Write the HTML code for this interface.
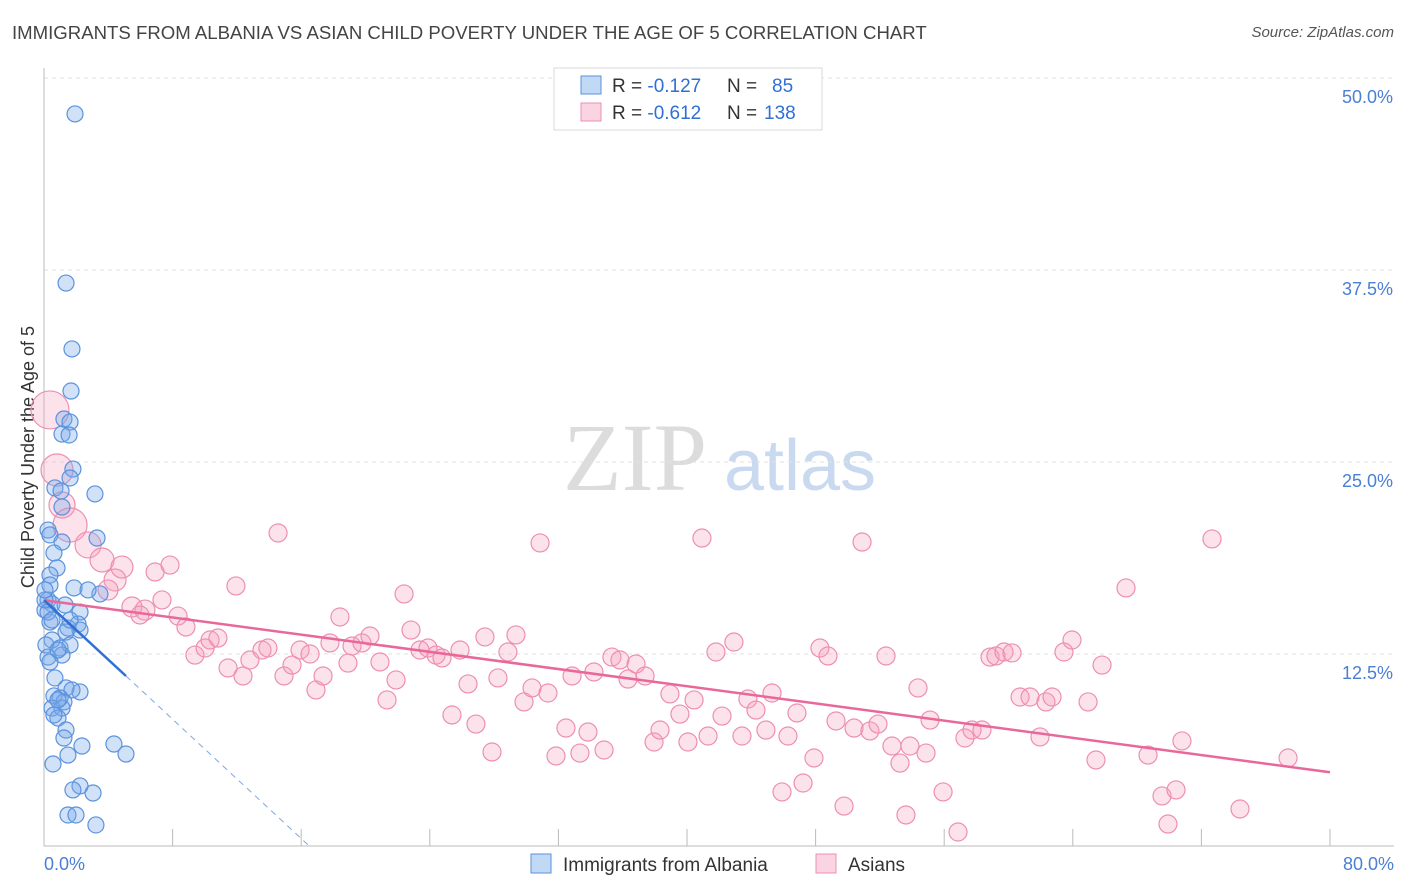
<!DOCTYPE html>
<html><head><meta charset="utf-8">
<style>
body{margin:0;background:#fff;font-family:"Liberation Sans",sans-serif;}
#wrap{position:relative;width:1406px;height:892px;overflow:hidden;}
.t{position:absolute;white-space:nowrap;}
</style></head>
<body>
<div id="wrap">
<div class="t" style="left:12px;top:22px;font-size:18.6px;color:#444;">IMMIGRANTS FROM ALBANIA VS ASIAN CHILD POVERTY UNDER THE AGE OF 5 CORRELATION CHART</div>
<div class="t" style="right:12px;top:24px;font-size:15px;color:#555;font-style:italic;">Source: ZipAtlas.com</div>
<svg id="svg" width="1406" height="892" style="position:absolute;left:0;top:0"></svg>
</div>
<script>
const blueX=[1.93,1.37,1.74,1.68,1.24,1.62,1.12,1.56,1.80,1.62,0.68,1.06,3.17,1.12,0.25,0.37,1.12,3.30,0.62,0.81,0.37,1.87,3.48,2.74,0.25,0.50,0.06,2.24,0.37,2.12,1.49,0.50,2.24,1.37,0.12,1.00,1.62,0.25,1.12,0.37,0.68,2.24,1.37,1.74,0.62,1.00,1.24,0.50,1.12,0.87,1.37,1.24,2.36,1.49,4.35,5.10,0.56,2.24,1.80,3.05,1.49,1.99,3.23,0.25,0.50,0.87,0.06,1.31,0.87,0.62,1.62,0.37,0.06];
const blueY=[47.66,36.65,32.36,29.62,27.80,27.60,26.82,26.76,24.54,23.96,23.31,23.11,22.92,22.07,20.57,20.25,19.79,20.05,19.08,18.10,17.64,16.80,16.41,16.67,16.02,15.76,15.36,15.23,14.58,14.45,14.19,13.41,14.06,13.93,13.09,12.89,13.09,12.30,12.43,11.98,10.94,10.03,10.29,10.16,9.77,9.64,9.38,8.98,8.98,8.33,7.55,7.03,6.51,5.92,6.64,5.99,5.34,3.91,3.65,3.45,2.02,2.02,1.37,15.23,14.71,12.76,16.02,15.69,9.51,8.53,14.71,16.99,16.67];
const pinkX=[0.37,0.81,1.12,1.62,2.74,3.61,4.42,4.85,3.98,5.47,6.28,5.97,6.91,7.84,7.34,8.34,8.83,9.39,10.02,10.33,10.82,11.45,11.94,12.38,12.81,13.56,13.93,14.56,14.93,15.43,15.93,16.55,16.92,17.36,17.79,18.41,18.91,19.16,19.78,20.28,20.90,21.34,21.90,22.40,22.83,23.39,23.89,24.39,24.76,25.38,25.88,26.38,26.87,27.43,27.87,28.24,28.86,29.36,29.86,30.36,30.86,31.35,31.85,32.47,32.85,33.34,33.84,34.21,34.84,35.33,35.83,36.33,36.83,37.39,37.95,38.32,38.94,39.56,40.06,40.44,40.93,41.31,41.80,42.18,42.92,43.42,43.79,44.29,44.91,45.29,45.91,46.28,46.84,47.22,47.90,48.27,48.77,49.27,49.77,50.39,50.89,51.38,51.88,52.38,52.75,53.25,53.62,53.87,54.37,54.87,55.12,55.93,56.86,57.29,57.73,58.35,58.85,59.22,59.72,60.22,60.72,61.34,61.96,62.33,62.71,63.45,63.95,64.95,65.44,65.82,67.31,68.68,69.55,69.92,70.42,70.79,72.66,74.40,77.39];
const pinkY=[28.39,24.48,22.20,20.90,19.60,18.62,17.32,18.16,16.67,15.56,15.36,15.04,17.84,18.29,16.02,14.97,14.26,12.43,12.89,13.41,13.54,11.59,16.93,11.07,12.11,12.76,12.89,20.38,11.07,11.78,12.76,12.50,10.16,11.07,13.22,14.91,11.91,13.02,13.22,13.67,11.98,9.51,10.81,16.41,14.06,12.76,12.89,12.43,12.24,8.53,12.76,10.55,7.94,13.61,6.12,10.94,12.63,13.74,9.38,10.29,19.73,9.96,5.86,7.68,11.07,6.05,7.42,11.33,6.25,12.30,12.11,10.87,11.85,11.07,6.77,7.55,9.90,8.59,6.77,9.51,20.05,7.16,12.63,8.46,13.28,7.16,9.57,8.85,7.55,9.96,3.52,7.16,8.66,4.10,5.73,12.89,12.37,8.14,2.60,7.68,19.79,7.49,7.94,12.37,6.51,5.40,2.02,6.51,10.29,6.05,8.20,3.52,0.91,7.03,7.55,7.55,12.30,12.37,12.63,12.57,9.70,9.70,7.10,9.38,9.70,12.63,13.41,9.38,5.60,11.78,16.80,5.92,3.26,1.43,3.65,6.84,19.99,2.41,5.73];
const pinkR=[19,16,13,17,13,12,11,11,10,10,10,9];
const yTicks=[12.5,25.0,37.5,50.0];
const xTickLabels=["0.0%","80.0%"];
const blueTrend=[16.0,-0.967,5.1,16.5];
const pinkTrend=[16.0,4.8];

const X0=44,X1=1330,Y0=846,Y1=78;
const sx=v=>X0+v/80*(X1-X0);
const sy=v=>Y0-v/50*(Y0-Y1);
const svg=document.getElementById('svg');
const NS='http://www.w3.org/2000/svg';
function mk(tag,attrs,parent){const e=document.createElementNS(NS,tag);for(const k in attrs)e.setAttribute(k,attrs[k]);(parent||svg).appendChild(e);return e;}

let w=mk('text',{x:635,y:490,'font-size':96,'font-family':'Liberation Serif, serif',fill:'#dcdcdc','text-anchor':'middle'});w.textContent='ZIP';


let w2=mk('text',{x:800,y:490,'font-size':72,'font-family':'Liberation Sans, sans-serif',fill:'#c9daf0','text-anchor':'middle'});w2.textContent='atlas';



yTicks.forEach(v=>{
  const l=mk('line',{x1:X0,x2:1394,y1:sy(v),y2:sy(v),stroke:'#e2e2e2','stroke-dasharray':'4,4'});
  
  
  const t=mk('text',{x:1393,y:sy(v)+25,'font-size':18,fill:'#4a7fd4','text-anchor':'end'});
  t.textContent=v.toFixed(1)+'%';
  
  
});
let ax=mk('line',{x1:X0,x2:X0,y1:68,y2:Y0,stroke:'#bbb'});


let bx=mk('line',{x1:X0,x2:1394,y1:Y0,y2:Y0,stroke:'#bbb'});


for(let i=0;i<=10;i++){
  const tk=mk('line',{x1:sx(i*8),x2:sx(i*8),y1:Y0,y2:Y0-17,stroke:'#bbb'});
  
  
}
[[0,'start',X0],[1,'end',1394]].forEach(([i,a,x])=>{
  const t=mk('text',{x:x,y:870,'font-size':18,fill:'#4a7fd4','text-anchor':a});
  t.textContent=xTickLabels[i];
  
  
});
let yt=mk('text',{x:34,y:457,'font-size':18,fill:'#333','text-anchor':'middle',transform:'rotate(-90 34 457)'});
yt.textContent='Child Poverty Under the Age of 5';



pinkX.forEach((x,i)=>{
  const c=mk('circle',{cx:sx(x),cy:sy(pinkY[i]),r:pinkR[i]||9,fill:'rgba(244,160,190,0.3)',stroke:'#ee8fb0','stroke-width':1.2});
  
  
});
blueX.forEach((x,i)=>{
  const c=mk('circle',{cx:sx(x),cy:sy(blueY[i]),r:8,fill:'rgba(120,170,235,0.35)',stroke:'#5b92dc','stroke-width':1.2});
  
  
});
let pt=mk('line',{x1:sx(0),y1:sy(pinkTrend[0]),x2:sx(80),y2:sy(pinkTrend[1]),stroke:'#e8689a','stroke-width':2.5});


const [b0,bs,bEnd,bZero]=blueTrend;
let bt=mk('line',{x1:sx(0),y1:sy(b0),x2:sx(bEnd),y2:sy(b0+bs*bEnd),stroke:'#2f6fd6','stroke-width':2.5});


let bd=mk('line',{x1:sx(bEnd),y1:sy(b0+bs*bEnd),x2:sx(bZero),y2:sy(0),stroke:'#7fa6e0','stroke-width':1,'stroke-dasharray':'6,5'});



let lg=mk('rect',{x:554,y:68,width:268,height:62,fill:'#fff',stroke:'#d8d8d8'});


[[0,'rgba(120,170,235,0.45)','#5b92dc','-0.127',' 85'],[1,'rgba(244,160,190,0.45)','#ee8fb0','-0.612','138']].forEach(([i,f,s,r,n])=>{
  const y=76+i*27;
  const sw=mk('rect',{x:581,y:y,width:20,height:18,fill:f,stroke:s});
  
  
  const t=mk('text',{x:612,y:y+16,'font-size':19,fill:'#333'});
  t.innerHTML='R = <tspan fill="#2f6fd6">'+r+'</tspan><tspan x="727">N = </tspan><tspan x="'+(n.trim().length<3?772:764)+'" fill="#2f6fd6">'+n.trim()+'</tspan>';
  
  
});
[[531,'rgba(120,170,235,0.45)','#5b92dc','Immigrants from Albania'],[816,'rgba(244,160,190,0.45)','#ee8fb0','Asians']].forEach(([x,f,s,txt])=>{
  const sw=mk('rect',{x:x,y:854,width:20,height:19,fill:f,stroke:s});
  
  
  const t=mk('text',{x:x+32,y:871,'font-size':19,fill:'#333'});
  t.textContent=txt;
  
  
});
</script>
</body></html>
